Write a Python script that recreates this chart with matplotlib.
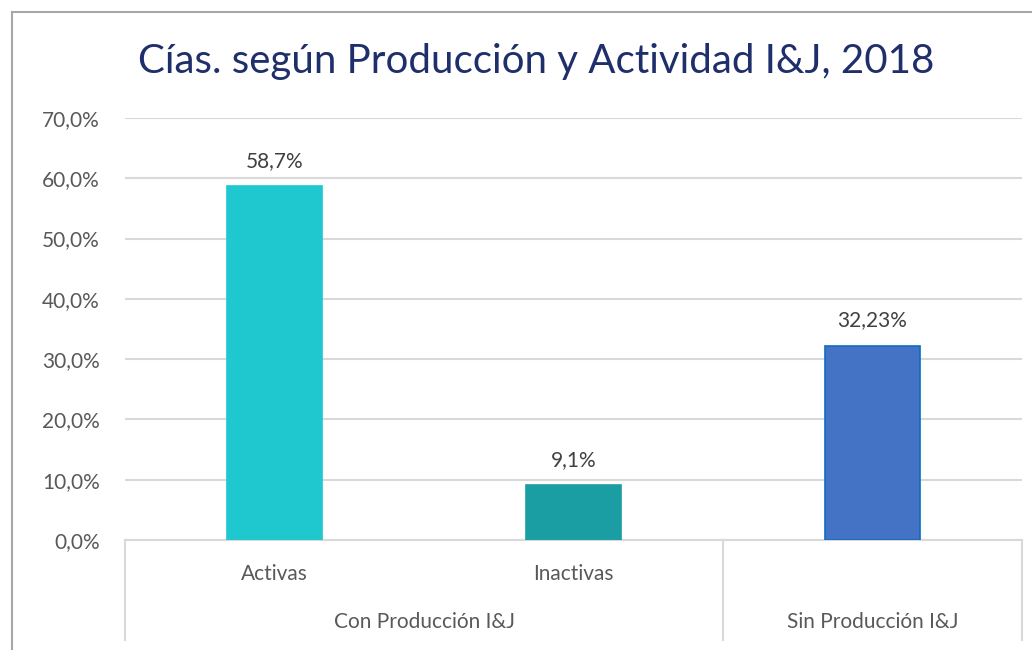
import matplotlib
matplotlib.use("Agg")
import matplotlib.pyplot as plt
from matplotlib.transforms import blended_transform_factory
from matplotlib.patches import Rectangle

categories = ["Activas", "Inactivas", "Sin Producción I&J"]
sub_labels = ["Activas", "Inactivas", ""]
groups = ["Con Producción I&J", "Sin Producción I&J"]
group_spans = [(0, 1), (2, 2)]
values = [58.7, 9.1, 32.23]
value_labels = ["58,7%", "9,1%", "32,23%"]
yticks = [0, 10, 20, 30, 40, 50, 60, 70]
ytick_labels = ["0,0%", "10,0%", "20,0%", "30,0%", "40,0%", "50,0%", "60,0%", "70,0%"]
title = "Cías. según Producción y Actividad I&J, 2018"

colors = ["#1FC7CF", "#1A9EA4", "#4472C4"]
edges = ["#1FC7CF", "#1A9EA4", "#0F6CC4"]

plt.rcParams['font.family'] = ['Lato', 'DejaVu Sans']
FS = 15

W, H = 1032, 650
fig = plt.figure(figsize=(W/100, H/100), dpi=100)
fig.patch.set_facecolor("white")

# outer frame
fig.patches.append(Rectangle((12/W, -0.1), 1.2, (H-12)/H + 0.1, transform=fig.transFigure,
                             fill=False, edgecolor="#A6A6A6", linewidth=1.5))

ax = fig.add_axes([125/W, (H-540)/H, 897/W, (540-118)/H])
x = list(range(len(categories)))
ax.bar(x, values, width=0.32, color=colors, edgecolor=edges, linewidth=1.2, zorder=3)
ax.set_xlim(-0.5, 2.5)
ax.set_ylim(0, 70)
ax.set_yticks(yticks)
ax.set_yticklabels(ytick_labels, fontsize=FS, color="#595959")
ax.yaxis.grid(True, color="#D9D9D9", linewidth=1.5, zorder=0)
ax.set_axisbelow(True)
for s in ["top", "right", "left"]:
    ax.spines[s].set_visible(False)
ax.spines["bottom"].set_color("#D9D9D9")
ax.spines["bottom"].set_linewidth(1.5)
ax.tick_params(axis="y", length=0, pad=18)
ax.set_xticks([])

for xi, v, lab in zip(x, values, value_labels):
    ax.annotate(lab, (xi, v), xytext=(0, 11), textcoords="offset points",
                ha="center", va="bottom", fontsize=FS, color="#404040")

tr = blended_transform_factory(ax.transData, ax.transAxes)
axh = (540-118)
def ay(py):
    return (540 - py) / axh

for bx in [-0.5, 1.5, 2.5]:
    ax.plot([bx, bx], [0, ay(640)], transform=tr, color="#D9D9D9", linewidth=1.5, clip_on=False)

for xi, lab in zip(x, sub_labels):
    if lab:
        ax.text(xi, ay(574), lab, transform=tr, ha="center", va="center", fontsize=FS, color="#595959")
for g, (a, b) in zip(groups, group_spans):
    ax.text((a + b) / 2, ay(622), g, transform=tr, ha="center", va="center", fontsize=FS, color="#595959")

fig.text(536/W, (H-62)/H, title, ha="center", va="center", fontsize=29, color="#1F2F6B")

fig.savefig("out.png", dpi=100)
